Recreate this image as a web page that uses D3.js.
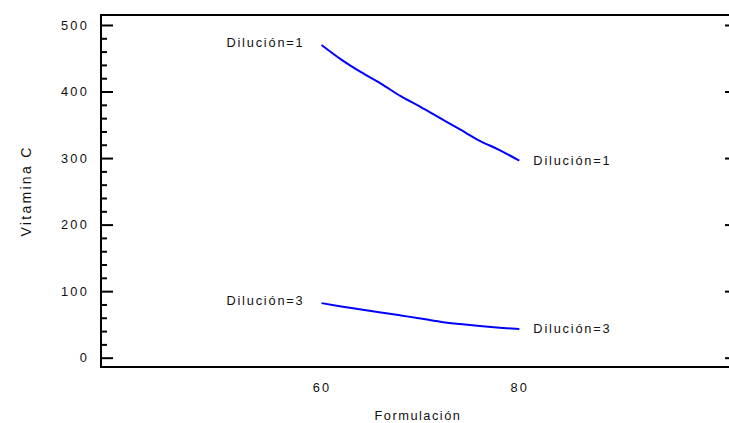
<!DOCTYPE html>
<html>
<head>
<meta charset="utf-8">
<script src="https://cdn.jsdelivr.net/npm/d3@7"></script>
<style>
  html, body { margin: 0; padding: 0; background: #fff; overflow: hidden; }
  svg { display: block; font-family: Arial, "Liberation Sans", sans-serif; }
  text { fill: #111; }
</style>
</head>
<body>
<svg id="chart" width="729" height="423"></svg>
<script>
// Formulación values along the x axis
const formulacion = [60, 62, 64, 66, 68, 70, 72, 74, 76, 78, 80];
// Predicted Vitamina C for each dilution level
const dilucion1 = [470, 448, 429, 412, 393, 377, 360, 343, 326, 312, 296];
const dilucion3 = [82, 77, 72.5, 68, 63.5, 59, 54, 50.5, 47.5, 45, 43];
const seriesNames = ["Dilución=1", "Dilución=3"];
// Axis ticks
const yMajorTicks = [0, 100, 200, 300, 400, 500];
const yMinorTicks = [20, 40, 60, 80, 120, 140, 160, 180, 220, 240, 260, 280, 320, 340, 360, 380, 420, 440, 460, 480];
const xTicks = [60, 80];

const svg = d3.select("#chart");
const plotLeft = 101, plotRight = 730, plotTop = 15, plotBottom = 367;

const x = d3.scaleLinear().domain([37.7, 101.3]).range([plotLeft, plotRight]);
const y = d3.scaleLinear().domain([-14, 515]).range([plotBottom, plotTop]);

const fontSize = 12.8;

// Frame lines (left, top, bottom)
const frame = svg.append("g").attr("stroke", "#000").attr("stroke-width", 2).attr("fill", "none");
frame.append("line").attr("x1", plotLeft).attr("x2", plotLeft).attr("y1", plotTop).attr("y2", plotBottom);
frame.append("line").attr("x1", plotLeft - 1).attr("x2", plotRight).attr("y1", plotTop).attr("y2", plotTop);
frame.append("line").attr("x1", plotLeft - 1).attr("x2", plotRight).attr("y1", plotBottom).attr("y2", plotBottom);

// Left axis: inward major ticks with labels
const yAxis = svg.append("g")
  .attr("transform", `translate(${plotLeft},0)`)
  .call(d3.axisLeft(y).tickValues(yMajorTicks).tickSize(-12).tickPadding(12).tickSizeOuter(0));
yAxis.select(".domain").remove();
yAxis.selectAll(".tick line").attr("stroke", "#000").attr("stroke-width", 2);
yAxis.selectAll(".tick text")
  .style("font-size", fontSize + "px")
  .style("letter-spacing", "2.2px")
  .attr("font-family", null)
  .attr("fill", "#111");

// Left axis: inward minor ticks
const yMinor = svg.append("g")
  .attr("transform", `translate(${plotLeft},0)`)
  .call(d3.axisLeft(y).tickValues(yMinorTicks).tickSize(-6).tickFormat(() => "").tickSizeOuter(0));
yMinor.select(".domain").remove();
yMinor.selectAll(".tick line").attr("stroke", "#000").attr("stroke-width", 2);

// Right side: short inward major ticks
const yRight = svg.append("g")
  .attr("transform", `translate(${plotRight},0)`)
  .call(d3.axisRight(y).tickValues(yMajorTicks).tickSize(-5).tickFormat(() => "").tickSizeOuter(0));
yRight.select(".domain").remove();
yRight.selectAll(".tick line").attr("stroke", "#000").attr("stroke-width", 2);

// Bottom axis: labels only
const xAxis = svg.append("g")
  .attr("transform", `translate(0,${plotBottom})`)
  .call(d3.axisBottom(x).tickValues(xTicks).tickSize(0).tickPadding(16).tickSizeOuter(0));
xAxis.select(".domain").remove();
xAxis.selectAll(".tick text")
  .style("font-size", fontSize + "px")
  .style("letter-spacing", "2.2px")
  .attr("font-family", null)
  .attr("fill", "#111");

// Axis titles
svg.append("text")
  .attr("x", 418).attr("y", 420)
  .attr("text-anchor", "middle")
  .style("font-size", fontSize + "px")
  .style("letter-spacing", "1.5px")
  .text("Formulación");

svg.append("text")
  .attr("transform", "translate(31,191) rotate(-90)")
  .attr("text-anchor", "middle")
  .style("font-size", "14px")
  .style("letter-spacing", "2.3px")
  .text("Vitamina C");

// Response lines
const line = d3.line()
  .x((d, i) => x(formulacion[i]))
  .y(d => y(d))
  .curve(d3.curveMonotoneX);

const series = [dilucion1, dilucion3];
svg.append("g").selectAll("path")
  .data(series)
  .join("path")
  .attr("d", line)
  .attr("fill", "none")
  .attr("stroke", "#0000ff")
  .attr("stroke-width", 2);

// End labels for each line
series.forEach((vals, k) => {
  const n = vals.length - 1;
  svg.append("text")
    .attr("x", x(formulacion[0]) - 17)
    .attr("y", y(vals[0]) - 1)
    .attr("text-anchor", "end")
    .attr("dominant-baseline", "middle")
    .style("font-size", fontSize + "px")
    .style("letter-spacing", "1.8px")
    .text(seriesNames[k]);
  svg.append("text")
    .attr("x", x(formulacion[n]) + 14)
    .attr("y", y(vals[n]) + 1)
    .attr("text-anchor", "start")
    .attr("dominant-baseline", "middle")
    .style("font-size", fontSize + "px")
    .style("letter-spacing", "1.8px")
    .text(seriesNames[k]);
});
</script>
</body>
</html>
